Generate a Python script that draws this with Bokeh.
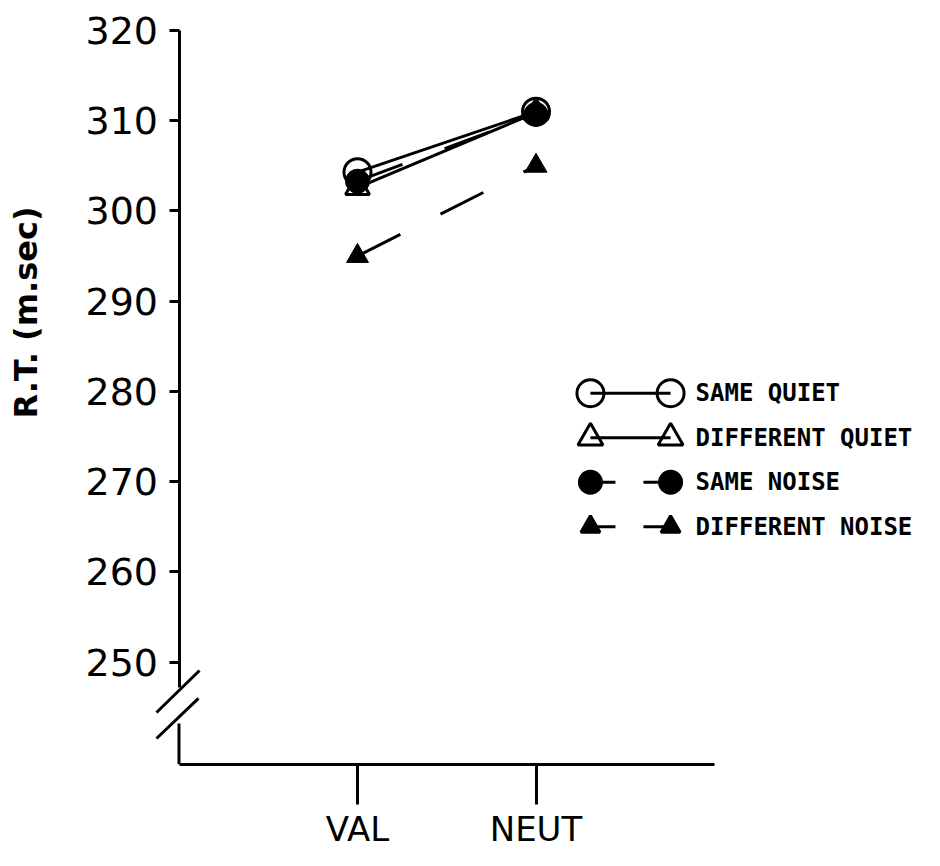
from bokeh.plotting import figure
from bokeh.models import Range1d, LinearAxis, FixedTicker
from bokeh.core.properties import value
from bokeh.embed import file_html
from bokeh.resources import INLINE

# ---------------- data ----------------
conditions = ["VAL", "NEUT"]
cond_x = [1, 2]
same_quiet = [304.3, 311.0]
different_quiet = [302.6, 310.9]
same_noise = [303.3, 310.7]
different_noise = [295.0, 305.0]
y_ticks = [250, 260, 270, 280, 290, 300, 310, 320]
series_labels = ["SAME QUIET", "DIFFERENT QUIET", "SAME NOISE", "DIFFERENT NOISE"]
y_title = "R.T. (m.sec)"

# ---------------- layout ----------------
W, H = 924, 850
X0_PX, X_UNIT = 178.5, 178.5      # pixel of x=0, pixels per x unit
Y_TOP_PX, Y_UNIT = 30.0, 9.024    # pixel of y=320, pixels per y unit
x_start = -X0_PX / X_UNIT
x_end = x_start + W / X_UNIT
y_end = 320 + Y_TOP_PX / Y_UNIT
y_start = y_end - H / Y_UNIT

y_base = 238.7        # where the x axis sits (below the axis break)
break_top = 247.2
break_bottom = 243.2

p = figure(width=W, height=H,
           x_range=Range1d(x_start, x_end), y_range=Range1d(y_start, y_end),
           x_axis_type=None, y_axis_type=None,
           output_backend="svg", toolbar_location=None,
           min_border=0, min_border_left=0, min_border_right=0,
           min_border_top=0, min_border_bottom=0,
           outline_line_color=None, background_fill_color="white",
           border_fill_color="white")

FONT = "DejaVu Sans"

xaxis = LinearAxis(fixed_location=y_base, bounds=(0, 3),
                   ticker=FixedTicker(ticks=cond_x, minor_ticks=[]),
                   major_label_overrides={k: v for k, v in zip(cond_x, conditions)},
                   axis_line_width=3, axis_line_color="black",
                   major_tick_line_width=3, major_tick_line_color="black",
                   major_tick_out=40, major_tick_in=0,
                   minor_tick_out=0, minor_tick_in=0,
                   major_label_standoff=5,
                   major_label_text_font=FONT,
                   major_label_text_font_size="34px",
                   major_label_text_color="black")
p.add_layout(xaxis, "below")

yaxis = LinearAxis(fixed_location=0, bounds=(break_top, 320),
                   ticker=FixedTicker(ticks=y_ticks, minor_ticks=[]),
                   axis_line_width=3, axis_line_color="black",
                   major_tick_line_width=3, major_tick_line_color="black",
                   major_tick_out=10, major_tick_in=0,
                   minor_tick_out=0, minor_tick_in=0,
                   major_label_standoff=11,
                   major_label_text_font=FONT,
                   major_label_text_font_size="38px",
                   major_label_text_color="black")
p.add_layout(yaxis, "left")

# axis carrying only the title, centred where the reference centres it
ytitle_axis = LinearAxis(fixed_location=0, bounds=(257.5, 320),
                         ticker=FixedTicker(ticks=[], minor_ticks=[]),
                         axis_line_color=None, major_tick_line_color=None,
                         minor_tick_line_color=None,
                         major_tick_out=0, major_tick_in=0,
                         minor_tick_out=0, minor_tick_in=0,
                         axis_label=y_title,
                         axis_label_standoff=135,
                         axis_label_text_font=FONT,
                         axis_label_text_font_style="bold",
                         axis_label_text_font_size="32px",
                         axis_label_text_color="black")
p.add_layout(ytitle_axis, "left")

# lower stub of the y axis and the break marks
p.segment(x0=[0, -0.126, -0.126], y0=[y_base, 244.42, 241.54],
          x1=[0, 0.115, 0.109], y1=[break_bottom, 249.08, 245.98],
          line_color="black", line_width=3)

# ---------------- data lines ----------------
LW = 3
p.line(cond_x, same_quiet, line_color="black", line_width=LW)
p.line(cond_x, different_quiet, line_color="black", line_width=LW)
p.line(cond_x, same_noise, line_color="black", line_width=LW, line_dash="48 45")
p.line(cond_x, different_noise, line_color="black", line_width=LW, line_dash="48 45")

p.scatter(cond_x, same_noise, marker="circle", size=24,
          fill_color="black", line_color="black")
p.scatter(cond_x, different_noise, marker="triangle", size=22,
          fill_color="black", line_color="black")
p.scatter(cond_x, same_quiet, marker="circle", size=27,
          fill_color=None, line_color="black", line_width=LW)
p.scatter(cond_x, different_quiet, marker="triangle", size=24,
          fill_color=None, line_color="black", line_width=LW)

# ---------------- legend ----------------
leg_x0, leg_x1, leg_tx = 2.305, 2.754, 2.894
leg_y0, leg_dy = 279.8, 4.93
styles = [
    dict(marker="circle", size=27, fill=None, dash="solid"),
    dict(marker="triangle", size=25, fill=None, dash="solid"),
    dict(marker="circle", size=22, fill="black", dash="25 28"),
    dict(marker="triangle", size=19, fill="black", dash="25 28"),
]
rows = [leg_y0 - i * leg_dy for i in range(len(series_labels))]
for st, yy in zip(styles, rows):
    p.line([leg_x0, leg_x1], [yy, yy], line_color="black", line_width=LW,
           line_dash=st["dash"])
    p.scatter([leg_x0, leg_x1], [yy, yy], marker=st["marker"], size=st["size"],
              fill_color=st["fill"], line_color="black", line_width=LW)

p.text(x=[leg_tx] * len(series_labels), y=rows, text=series_labels,
       text_font=value("DejaVu Sans Mono"), text_font_style="bold",
       text_font_size="24px", text_baseline="middle", text_align="left",
       text_color="black")

open("out.html", "w").write(file_html(p, INLINE))
